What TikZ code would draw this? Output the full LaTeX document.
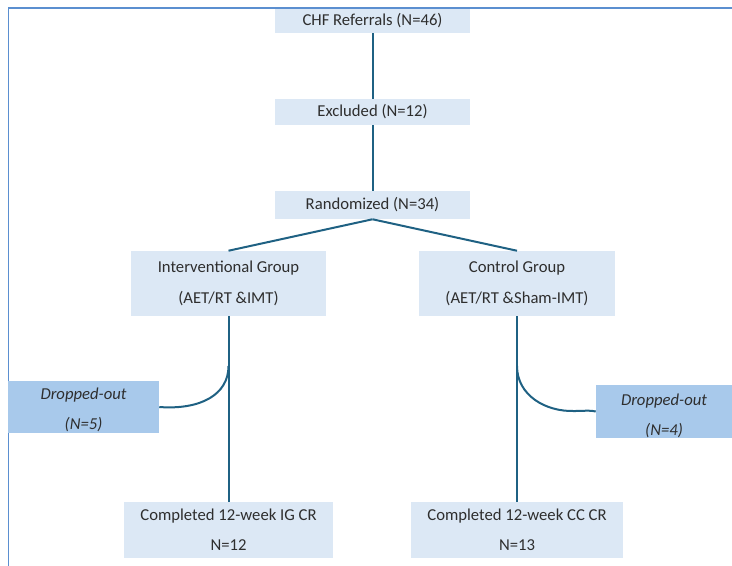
\documentclass[tikz,border=0pt]{standalone}
\usepackage{fontspec}
\setmainfont{Carlito}
\definecolor{boxfill}{HTML}{DCE8F5}
\definecolor{dropfill}{HTML}{A8C9EB}
\definecolor{linec}{HTML}{1F6183}
\definecolor{framec}{HTML}{5B8FD0}
\definecolor{txt}{HTML}{2E2E2E}
\tikzset{
  x=0.75pt, y=-0.75pt,
  flowbox/.style={rectangle, fill=boxfill, draw=none, inner sep=0pt, text=txt, font=\fontsize{12.5}{14}\selectfont, align=center},
  dropbox/.style={rectangle, fill=dropfill, draw=none, inner sep=0pt, text=txt, font=\fontsize{12.5}{14}\selectfont\itshape, align=center},
  conn/.style={draw=linec, line width=1.5pt},
}
\begin{document}
\begin{tikzpicture}
\useasboundingbox (0,0) rectangle (732,565);
% frame
\draw[framec, line width=1.3pt] (8.5,566) -- (8.5,8) -- (733,8);
% boxes
\node[flowbox, minimum width=195*0.75pt, minimum height=24*0.75pt] (chf) at (372.5,21) {CHF Referrals (N=46)};
\node[flowbox, minimum width=195*0.75pt, minimum height=26*0.75pt] (exc) at (372.5,112) {Excluded (N=12)};
\node[flowbox, minimum width=195*0.75pt, minimum height=28*0.75pt] (rand) at (372.5,205) {Randomized (N=34)};
\node[flowbox, minimum width=195*0.75pt, minimum height=65*0.75pt] (ig) at (228.5,283.5) {Interventional Group\\[9.5pt](AET/RT \&IMT)};
\node[flowbox, minimum width=196*0.75pt, minimum height=65*0.75pt] (cg) at (517,283.5) {Control Group\\[9.5pt](AET/RT \&Sham-IMT)};
\node[dropbox, minimum width=151*0.75pt, minimum height=52*0.75pt] (dl) at (83.5,407) {};
\node[dropbox, minimum width=136*0.75pt, minimum height=53*0.75pt] (dr) at (664,411.5) {};
\node[dropbox, fill=none, anchor=center] (dlt) at (83.5,410) {Dropped-out\\[8.5pt](N=5)};
\node[dropbox, fill=none, anchor=center] (drt) at (664,415.5) {Dropped-out\\[8.5pt](N=4)};
\node[flowbox, minimum width=209*0.75pt, minimum height=56*0.75pt] (cig) at (228.5,530) {Completed 12-week IG CR\\[8.5pt]N=12};
\node[flowbox, minimum width=212*0.75pt, minimum height=56*0.75pt] (ccc) at (517,530) {Completed 12-week CC CR\\[8.5pt]N=13};
% coordinates
\coordinate (lbr) at (228.5,366);
\coordinate (rbr) at (517,366);
% connectors
\draw[conn] (chf.south) -- (exc.north);
\draw[conn] (exc.south) -- (rand.north);
\draw[conn] (rand.south) -- (ig.north);
\draw[conn] (rand.south) -- (cg.north);
\draw[conn] (ig.south) -- (cig.north);
\draw[conn] (cg.south) -- (ccc.north);
\draw[conn] (lbr) .. controls (228.5,395) and (200,410) .. (dl.east);
\draw[conn] (rbr) .. controls (517,395) and (545,412) .. (575,411) .. controls (585,411) and (590,410) .. (dr.west);
\end{tikzpicture}
\end{document}
